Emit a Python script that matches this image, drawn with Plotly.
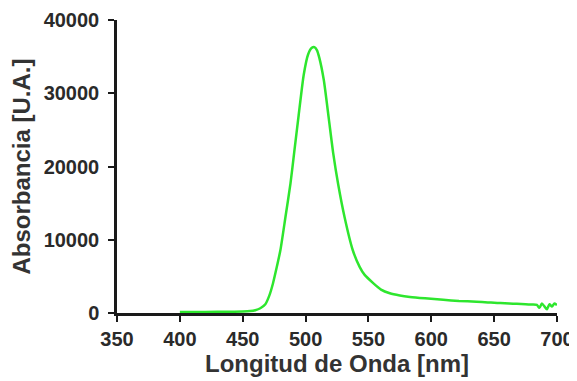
import plotly.graph_objects as go

wavelength_nm = [400, 420, 440, 450, 456, 460, 464, 468, 471, 474, 477, 480, 484, 488, 491,
                 494.5, 498.5, 502, 505, 507, 509, 511, 514.5, 518.5, 522, 526, 531, 537.5,
                 543, 547, 554, 560, 567, 575, 583, 595, 609.5, 622, 636, 645, 650, 655, 662,
                 668, 675, 680, 684, 686, 688, 690, 692, 694, 696, 698, 700]
absorbance = [150, 150, 170, 200, 260, 380, 650, 1200, 2300, 4000, 6200, 8600, 13100, 17700, 22000,
              27000, 32500, 35300, 36200, 36300, 35900, 34800, 31800, 26500, 21800, 17500, 13100, 8600,
              6300, 5200, 4050, 3200, 2700, 2400, 2200, 2000, 1800, 1650, 1550, 1450, 1400, 1350, 1300,
              1250, 1200, 1150, 1100, 700, 1300, 900, 500, 1200, 900, 1300, 1100]

x_ticks = [350, 400, 450, 500, 550, 600, 650, 700]
y_ticks = [0, 10000, 20000, 30000, 40000]

fig = go.Figure()
fig.add_trace(go.Scatter(
    x=wavelength_nm, y=absorbance, mode="lines",
    line=dict(color="#2ee62e", width=2.5, shape="spline", smoothing=0.6),
    showlegend=False, hoverinfo="skip"))

axis_font = dict(family="Liberation Sans, Arial, sans-serif", size=20, color="#2a2a2a", weight="bold")
title_font = dict(family="Liberation Sans, Arial, sans-serif", size=24, color="#333333", weight="bold")

# page body has an 8px default margin, so the figure is sized and offset accordingly
fig.update_layout(
    width=569, height=373,
    margin=dict(l=109, r=20, t=12, b=68),
    paper_bgcolor="white", plot_bgcolor="white",
    xaxis=dict(range=[350, 700], tickvals=x_ticks, ticktext=[str(v) for v in x_ticks],
               showgrid=False, zeroline=False, showline=True, linecolor="#1a1a1a", linewidth=2.5,
               ticks="outside", ticklen=6, tickwidth=2, tickcolor="#1a1a1a", automargin=False,
               tickfont=axis_font, title=dict(text="Longitud de Onda [nm]", font=title_font, standoff=6)),
    yaxis=dict(range=[0, 40000], tickvals=y_ticks, ticktext=[str(v) for v in y_ticks],
               showgrid=False, zeroline=False, showline=True, linecolor="#1a1a1a", linewidth=2.5,
               ticks="outside", ticklen=6, tickwidth=2, tickcolor="#1a1a1a", automargin=False,
               ticklabelstandoff=5,
               tickfont=axis_font, title=dict(text="Absorbancia [U.A.]", font=title_font, standoff=8)),
)

fig.write_html("out.html")
